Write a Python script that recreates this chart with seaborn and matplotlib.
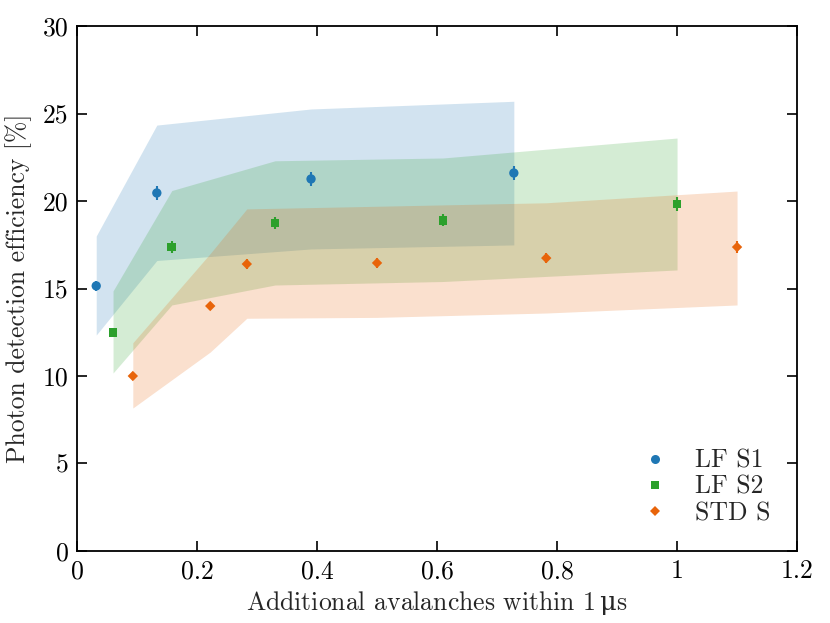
import numpy as np
import pandas as pd
import matplotlib
matplotlib.use("Agg")
import matplotlib.pyplot as plt
from matplotlib.ticker import FuncFormatter
import seaborn as sns

# ---- data ----
s1_x = [0.032, 0.133, 0.39, 0.728]
s1_y = [15.15, 20.46, 21.26, 21.6]
s1_err = [0.3, 0.4, 0.4, 0.4]
s1_lo = [12.34, 16.6, 17.26, 17.49]
s1_hi = [18.0, 24.34, 25.26, 25.7]

s2_x = [0.06, 0.158, 0.33, 0.61, 1.0]
s2_y = [12.5, 17.37, 18.74, 18.9, 19.83]
s2_err = [0.25, 0.35, 0.35, 0.35, 0.4]
s2_lo = [10.17, 14.06, 15.2, 15.4, 16.06]
s2_hi = [14.86, 20.6, 22.3, 22.46, 23.6]

s3_x = [0.093, 0.222, 0.283, 0.5, 0.782, 1.1]
s3_y = [10.0, 14.0, 16.4, 16.46, 16.74, 17.37]
s3_err = [0.2, 0.25, 0.3, 0.3, 0.3, 0.35]
s3_lo = [8.17, 11.37, 13.3, 13.35, 13.6, 14.06]
s3_hi = [11.9, 17.0, 19.55, 19.7, 19.9, 20.57]

labels = ["LF S1", "LF S2", "STD S"]
colors = ["#1f77b4", "#2ca02c", "#e8640a"]
markers = ["o", "s", "D"]
msizes = [45, 40, 28]

sns.set_style("ticks")
plt.rcParams["font.family"] = ["cmr10", "DejaVu Serif"]
plt.rcParams["mathtext.fontset"] = "dejavuserif"
plt.rcParams["axes.formatter.use_mathtext"] = True

FS = 18.5

fig = plt.figure(figsize=(8.3, 6.23), dpi=100)
ax = fig.add_axes([0.0928, 0.1156, 0.8675, 0.8426])

series = [
    (s1_x, s1_y, s1_err, s1_lo, s1_hi),
    (s2_x, s2_y, s2_err, s2_lo, s2_hi),
    (s3_x, s3_y, s3_err, s3_lo, s3_hi),
]

for (x, y, e, lo, hi), lab, c in zip(series, labels, colors):
    ax.fill_between(x, lo, hi, color=c, alpha=0.2, linewidth=0, zorder=1)

frames = []
for (x, y, e, lo, hi), lab in zip(series, labels):
    frames.append(pd.DataFrame({"x": x, "y": y, "err": e, "series": lab}))
df = pd.concat(frames, ignore_index=True)

for (x, y, e, lo, hi), c in zip(series, colors):
    ax.errorbar(x, y, yerr=e, fmt="none", ecolor=c, elinewidth=1.5, capsize=0, zorder=2)

sns.scatterplot(data=df, x="x", y="y", hue="series", style="series",
                palette=dict(zip(labels, colors)),
                markers=dict(zip(labels, markers)),
                size="series", sizes=dict(zip(labels, msizes)),
                edgecolor="none", linewidth=0, ax=ax, zorder=3, legend=False)

handles = [plt.Line2D([], [], linestyle="none", marker=m, color=c,
                      markersize=ms, markeredgewidth=0)
           for m, c, ms in zip(markers, colors, [6.5, 6, 5])]
leg = ax.legend(handles, labels, loc="lower right", frameon=False,
                fontsize=FS, handletextpad=0.55, labelspacing=0.1,
                bbox_to_anchor=(0.995, 0.005))

ax.set_xlim(0, 1.2)
ax.set_ylim(0, 30)
ax.set_xticks(np.arange(0, 1.21, 0.2))
ax.set_yticks(np.arange(0, 31, 5))
fmt = FuncFormatter(lambda v, p: f"{v:g}")
ax.xaxis.set_major_formatter(fmt)
ax.yaxis.set_major_formatter(fmt)
ax.tick_params(direction="in", length=7, width=1.2, top=True, right=True,
               labelsize=FS, pad=6, colors="black")
for sp in ax.spines.values():
    sp.set_visible(True)
    sp.set_linewidth(1.3)
    sp.set_color("black")

ax.set_xlabel(r"Additional avalanches within 1$\,\mathrm{\mu}$s", fontsize=FS, labelpad=4)
ax.set_ylabel("Photon detection efficiency [%]", fontsize=FS, labelpad=8)

fig.savefig("out.png", dpi=100)
